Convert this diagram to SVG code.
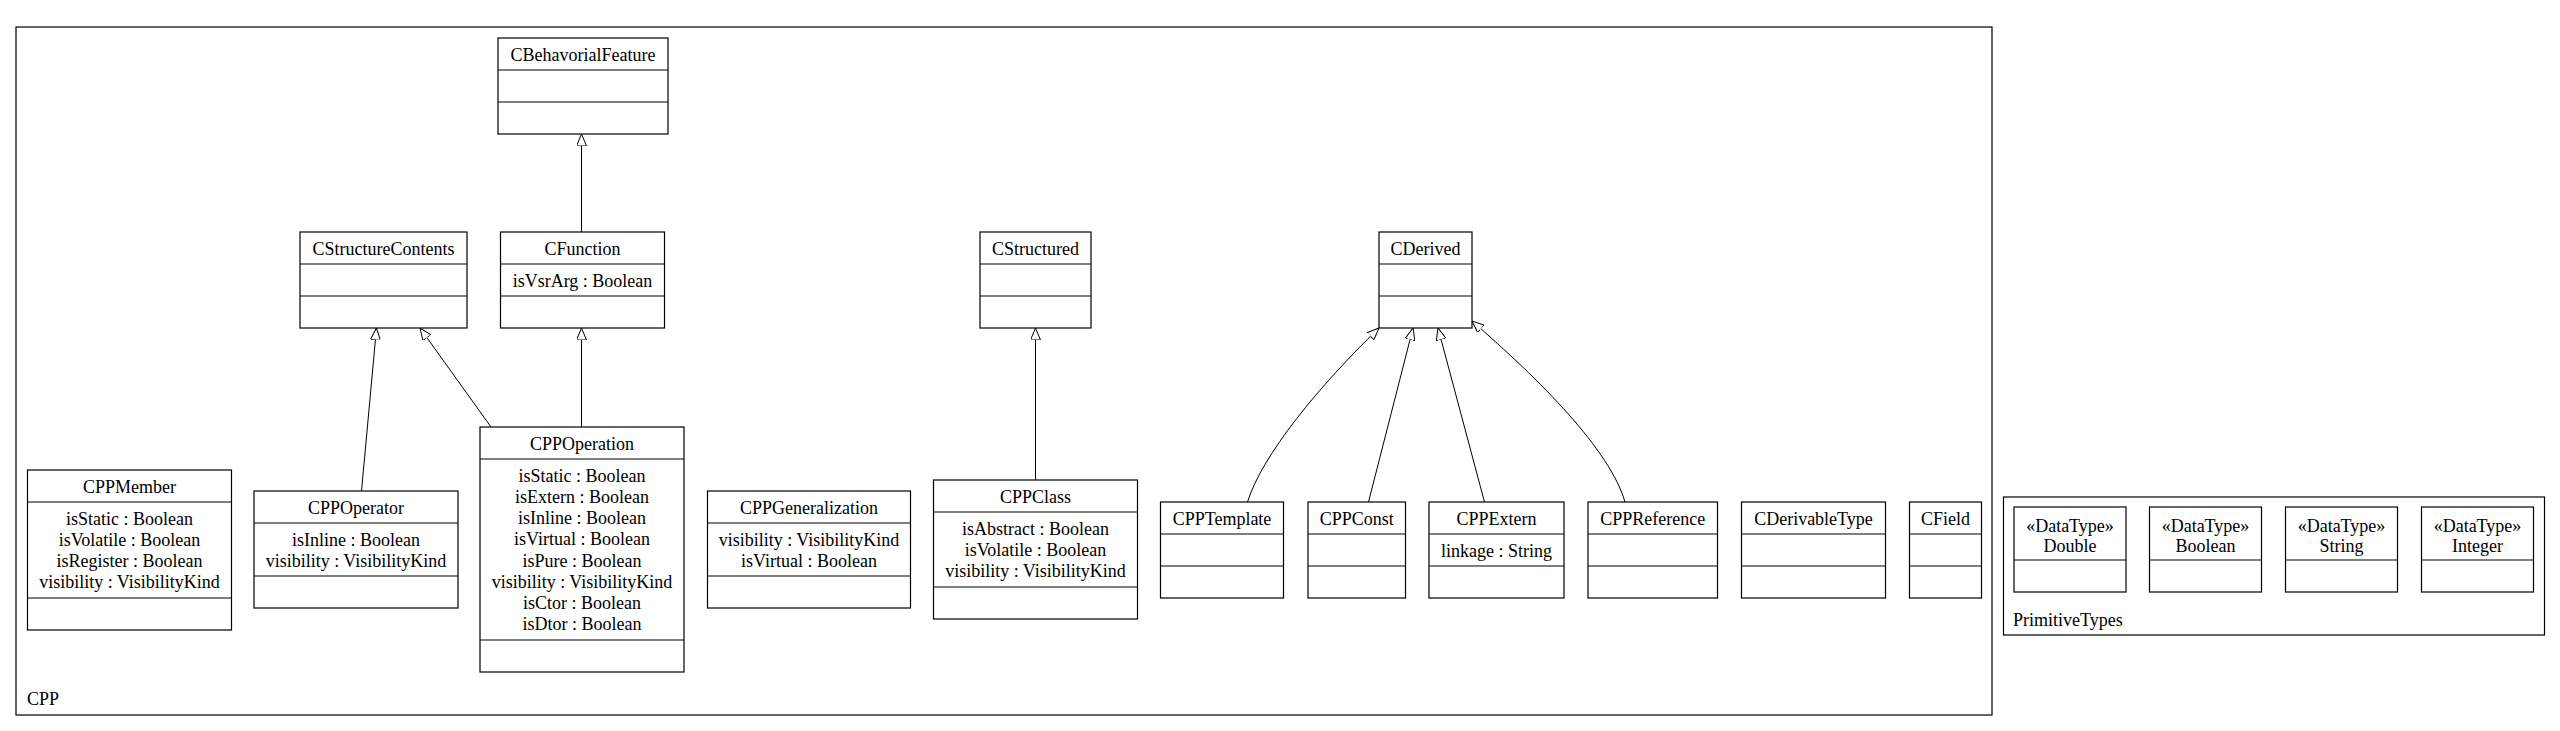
<svg xmlns="http://www.w3.org/2000/svg" width="2560" height="731" viewBox="0 0 2560 731">
<style>
rect,line.c{fill:#fff;stroke:#000;stroke-width:1.2}
.pkg{fill:none;stroke:#000;stroke-width:1.2}
.sep{stroke:#000;stroke-width:1.2}
text{font-family:"Liberation Serif","Times New Roman",serif;font-size:18px;fill:#000}
.m{text-anchor:middle}
.edge{fill:none;stroke:#000;stroke-width:1;marker-end:url(#gen)}
</style>
<defs>
<marker id="gen" viewBox="0 0 12 10" refX="12" refY="5" markerWidth="12" markerHeight="10" markerUnits="userSpaceOnUse" orient="auto">
<path d="M0,0 L12,5 L0,10 Z" fill="#fff" stroke="#000" stroke-width="1"/>
</marker>
</defs>
<rect width="2560" height="731" fill="#fff" style="stroke:none"/>
<g id="pkg-CPP">
<rect class="pkg" x="16" y="27" width="1976" height="688"/>
<text x="27" y="705">CPP</text>
</g>
<g id="pkg-PrimitiveTypes">
<rect class="pkg" x="2003.5" y="497" width="541" height="138"/>
<text x="2013" y="626">PrimitiveTypes</text>
</g>
<g id="CBehavorialFeature">
<rect x="498" y="38" width="170" height="96"/>
<line class="sep" x1="498" y1="70" x2="668" y2="70"/><line class="sep" x1="498" y1="102" x2="668" y2="102"/>
<text class="m" x="583" y="61">CBehavorialFeature</text>
</g>
<g id="CStructureContents">
<rect x="300" y="232" width="167" height="96"/>
<line class="sep" x1="300" y1="264" x2="467" y2="264"/><line class="sep" x1="300" y1="296" x2="467" y2="296"/>
<text class="m" x="383.5" y="255">CStructureContents</text>
</g>
<g id="CFunction">
<rect x="500.5" y="232" width="164" height="96"/>
<line class="sep" x1="500.5" y1="264" x2="664.5" y2="264"/><line class="sep" x1="500.5" y1="296" x2="664.5" y2="296"/>
<text class="m" x="582.5" y="255">CFunction</text>
<text class="m" x="582.5" y="286.5">isVsrArg : Boolean</text>
</g>
<g id="CStructured">
<rect x="980" y="232" width="111" height="96"/>
<line class="sep" x1="980" y1="264" x2="1091" y2="264"/><line class="sep" x1="980" y1="296" x2="1091" y2="296"/>
<text class="m" x="1035.5" y="255">CStructured</text>
</g>
<g id="CDerived">
<rect x="1379" y="232" width="93" height="96"/>
<line class="sep" x1="1379" y1="264" x2="1472" y2="264"/><line class="sep" x1="1379" y1="296" x2="1472" y2="296"/>
<text class="m" x="1425.5" y="255">CDerived</text>
</g>
<g id="CPPMember">
<rect x="27.5" y="470" width="204" height="160"/>
<line class="sep" x1="27.5" y1="502" x2="231.5" y2="502"/><line class="sep" x1="27.5" y1="598" x2="231.5" y2="598"/>
<text class="m" x="129.5" y="493">CPPMember</text>
<text class="m" x="129.5" y="524.5">isStatic : Boolean</text>
<text class="m" x="129.5" y="545.8">isVolatile : Boolean</text>
<text class="m" x="129.5" y="567">isRegister : Boolean</text>
<text class="m" x="129.5" y="588.3">visibility : VisibilityKind</text>
</g>
<g id="CPPOperator">
<rect x="254" y="491" width="204" height="117"/>
<line class="sep" x1="254" y1="523" x2="458" y2="523"/><line class="sep" x1="254" y1="576" x2="458" y2="576"/>
<text class="m" x="356" y="514">CPPOperator</text>
<text class="m" x="356" y="545.5">isInline : Boolean</text>
<text class="m" x="356" y="566.8">visibility : VisibilityKind</text>
</g>
<g id="CPPOperation">
<rect x="480" y="427" width="204" height="245"/>
<line class="sep" x1="480" y1="459" x2="684" y2="459"/><line class="sep" x1="480" y1="640" x2="684" y2="640"/>
<text class="m" x="582" y="450">CPPOperation</text>
<text class="m" x="582" y="481.5">isStatic : Boolean</text>
<text class="m" x="582" y="502.8">isExtern : Boolean</text>
<text class="m" x="582" y="524">isInline : Boolean</text>
<text class="m" x="582" y="545.3">isVirtual : Boolean</text>
<text class="m" x="582" y="566.5">isPure : Boolean</text>
<text class="m" x="582" y="587.8">visibility : VisibilityKind</text>
<text class="m" x="582" y="609">isCtor : Boolean</text>
<text class="m" x="582" y="630.3">isDtor : Boolean</text>
</g>
<g id="CPPGeneralization">
<rect x="707.5" y="491" width="203" height="117"/>
<line class="sep" x1="707.5" y1="523" x2="910.5" y2="523"/><line class="sep" x1="707.5" y1="576" x2="910.5" y2="576"/>
<text class="m" x="809" y="514">CPPGeneralization</text>
<text class="m" x="809" y="545.5">visibility : VisibilityKind</text>
<text class="m" x="809" y="566.8">isVirtual : Boolean</text>
</g>
<g id="CPPClass">
<rect x="933.5" y="480" width="204" height="139"/>
<line class="sep" x1="933.5" y1="512" x2="1137.5" y2="512"/><line class="sep" x1="933.5" y1="587" x2="1137.5" y2="587"/>
<text class="m" x="1035.5" y="503">CPPClass</text>
<text class="m" x="1035.5" y="534.5">isAbstract : Boolean</text>
<text class="m" x="1035.5" y="555.8">isVolatile : Boolean</text>
<text class="m" x="1035.5" y="577">visibility : VisibilityKind</text>
</g>
<g id="CPPTemplate">
<rect x="1160.5" y="502" width="123" height="96"/>
<line class="sep" x1="1160.5" y1="534" x2="1283.5" y2="534"/><line class="sep" x1="1160.5" y1="566" x2="1283.5" y2="566"/>
<text class="m" x="1222" y="525">CPPTemplate</text>
</g>
<g id="CPPConst">
<rect x="1308" y="502" width="97.5" height="96"/>
<line class="sep" x1="1308" y1="534" x2="1405.5" y2="534"/><line class="sep" x1="1308" y1="566" x2="1405.5" y2="566"/>
<text class="m" x="1356.7" y="525">CPPConst</text>
</g>
<g id="CPPExtern">
<rect x="1429" y="502" width="135" height="96"/>
<line class="sep" x1="1429" y1="534" x2="1564" y2="534"/><line class="sep" x1="1429" y1="566" x2="1564" y2="566"/>
<text class="m" x="1496.5" y="525">CPPExtern</text>
<text class="m" x="1496.5" y="556.5">linkage : String</text>
</g>
<g id="CPPReference">
<rect x="1588" y="502" width="129.5" height="96"/>
<line class="sep" x1="1588" y1="534" x2="1717.5" y2="534"/><line class="sep" x1="1588" y1="566" x2="1717.5" y2="566"/>
<text class="m" x="1652.7" y="525">CPPReference</text>
</g>
<g id="CDerivableType">
<rect x="1741.5" y="502" width="144" height="96"/>
<line class="sep" x1="1741.5" y1="534" x2="1885.5" y2="534"/><line class="sep" x1="1741.5" y1="566" x2="1885.5" y2="566"/>
<text class="m" x="1813.5" y="525">CDerivableType</text>
</g>
<g id="CField">
<rect x="1909.5" y="502" width="72" height="96"/>
<line class="sep" x1="1909.5" y1="534" x2="1981.5" y2="534"/><line class="sep" x1="1909.5" y1="566" x2="1981.5" y2="566"/>
<text class="m" x="1945.5" y="525">CField</text>
</g>
<g id="Double">
<rect x="2014" y="507" width="112" height="85"/>
<line class="sep" x1="2014" y1="560" x2="2126" y2="560"/>
<text class="m" x="2070" y="531.5">«DataType»</text>
<text class="m" x="2070" y="551.5">Double</text>
</g>
<g id="Boolean">
<rect x="2149.5" y="507" width="112" height="85"/>
<line class="sep" x1="2149.5" y1="560" x2="2261.5" y2="560"/>
<text class="m" x="2205.5" y="531.5">«DataType»</text>
<text class="m" x="2205.5" y="551.5">Boolean</text>
</g>
<g id="String">
<rect x="2285.5" y="507" width="112" height="85"/>
<line class="sep" x1="2285.5" y1="560" x2="2397.5" y2="560"/>
<text class="m" x="2341.5" y="531.5">«DataType»</text>
<text class="m" x="2341.5" y="551.5">String</text>
</g>
<g id="Integer">
<rect x="2421.5" y="507" width="112" height="85"/>
<line class="sep" x1="2421.5" y1="560" x2="2533.5" y2="560"/>
<text class="m" x="2477.5" y="531.5">«DataType»</text>
<text class="m" x="2477.5" y="551.5">Integer</text>
</g>
<g id="connectors">
<path class="edge" d="M581.5,232 L581.5,134"/>
<path class="edge" d="M581.5,427 L581.5,328"/>
<path class="edge" d="M361.5,491 L376.5,328"/>
<path class="edge" d="M491,427 L420,328"/>
<path class="edge" d="M1035.5,480 L1035.5,328"/>
<path class="edge" d="M1247.5,502 C1262,455 1320,385 1379,328"/>
<path class="edge" d="M1368.5,502 L1413,328"/>
<path class="edge" d="M1484.5,502 L1438,328"/>
<path class="edge" d="M1625,502 C1610,450 1540,380 1472,321"/>
</g>
</svg>
